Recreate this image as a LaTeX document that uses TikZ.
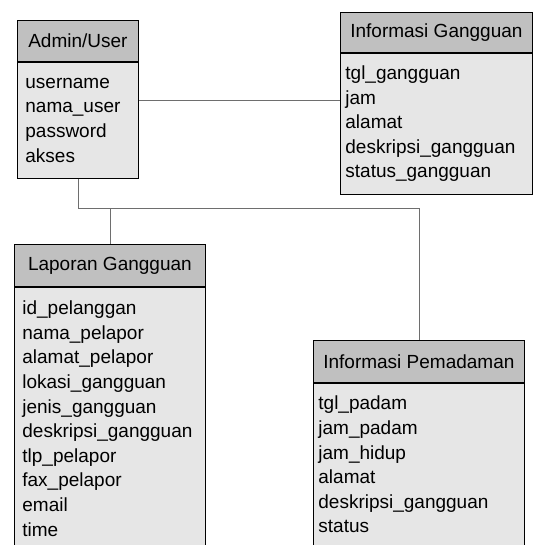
\documentclass[tikz,border=0pt]{standalone}
\usepackage{fontspec}
\setmainfont{Liberation Sans}
\usetikzlibrary{positioning,calc}
\definecolor{hdrgray}{RGB}{192,192,192}
\definecolor{bodygray}{RGB}{230,230,230}
\definecolor{linegray}{RGB}{110,110,110}

\begin{document}
\begin{tikzpicture}[
  x=1pt, y=-1pt,
  font=\fontsize{19}{24.6}\selectfont,
  hdr/.style={draw, thick, fill=hdrgray, inner xsep=0pt, inner ysep=0pt,
              align=center},
  attrs/.style={draw, thick, fill=bodygray, inner xsep=8pt, inner ysep=0pt,
                align=left},
  conn/.style={linegray, thick}
]
\clip (0,0) rectangle (533,545);
\fill[white] (0,0) rectangle (533,545);

% Admin/User
\node[hdr, minimum width=121pt, minimum height=41pt, anchor=north west] (aHead) at (17,20) {Admin/User};
\node[attrs, text width=105pt, minimum height=116pt, below=0pt of aHead] (aBody)
  {username\\nama\_user\\password\\akses};

% Informasi Gangguan
\node[hdr, minimum width=192pt, minimum height=40pt, anchor=north west] (gHead) at (340,12) {Informasi Gangguan};
\node[attrs, inner xsep=5pt, text width=182pt, minimum height=141pt, below=0pt of gHead] (gBody)
  {tgl\_gangguan\\jam\\alamat\\deskripsi\_gangguan\\status\_gangguan};

% Laporan Gangguan
\node[hdr, minimum width=191pt, minimum height=42pt, anchor=north west] (lHead) at (14,244) {Laporan Gangguan};
\node[attrs, text width=175pt, minimum height=263pt, below=0pt of lHead] (lBody)
  {id\_pelanggan\\nama\_pelapor\\alamat\_pelapor\\lokasi\_gangguan\\jenis\_gangguan\\deskripsi\_gangguan\\tlp\_pelapor\\fax\_pelapor\\email\\time};

% Informasi Pemadaman
\node[hdr, minimum width=211pt, minimum height=42pt, anchor=north west] (pHead) at (313,340) {Informasi Pemadaman};
\node[attrs, inner xsep=5pt, text width=201pt, minimum height=163pt, below=0pt of pHead] (pBody)
  {tgl\_padam\\jam\_padam\\jam\_hidup\\alamat\\deskripsi\_gangguan\\status};

% relasi
\draw[conn] (aBody.east) ++(0,-20) coordinate (j1) -- (j1 -| gBody.west);
\draw[conn] (aBody.south) -- ++(0,30) coordinate (bus) -| (pHead.north);
\draw[conn] (bus -| lHead.north) -- (lHead.north);
\end{tikzpicture}
\end{document}
